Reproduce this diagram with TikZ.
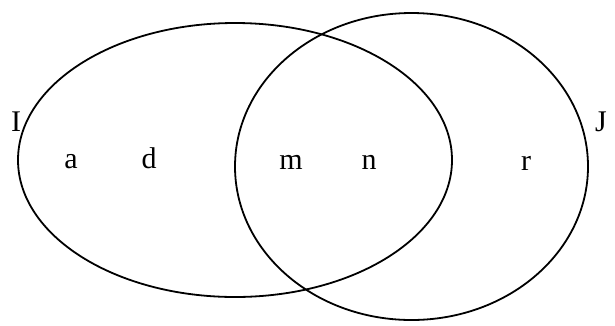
\documentclass[tikz,border=0pt]{standalone}
\usepackage{fontspec}
\setmainfont{Liberation Serif}
\begin{document}
\begin{tikzpicture}[x=1pt,y=-1pt,
  setline/.style={line width=1.8pt},
  lab/.style={anchor=base,inner sep=0pt,font=\fontsize{30}{34}\selectfont}]
\useasboundingbox (0,0) rectangle (615,325);
\draw[setline] (235,160) ellipse [x radius=217, y radius=137];
\draw[setline] (411.5,166.5) ellipse [x radius=176.5, y radius=153.5];
\node[lab] (I) at (16,131) {I};
\node[lab] (J) at (601,131) {J};
\node[lab] (a) at (71,168) {a};
\node[lab] (d) at (149,168) {d};
\node[lab] (m) at (291,169) {m};
\node[lab] (n) at (369,169) {n};
\node[lab] (r) at (526,170) {r};
\end{tikzpicture}
\end{document}
